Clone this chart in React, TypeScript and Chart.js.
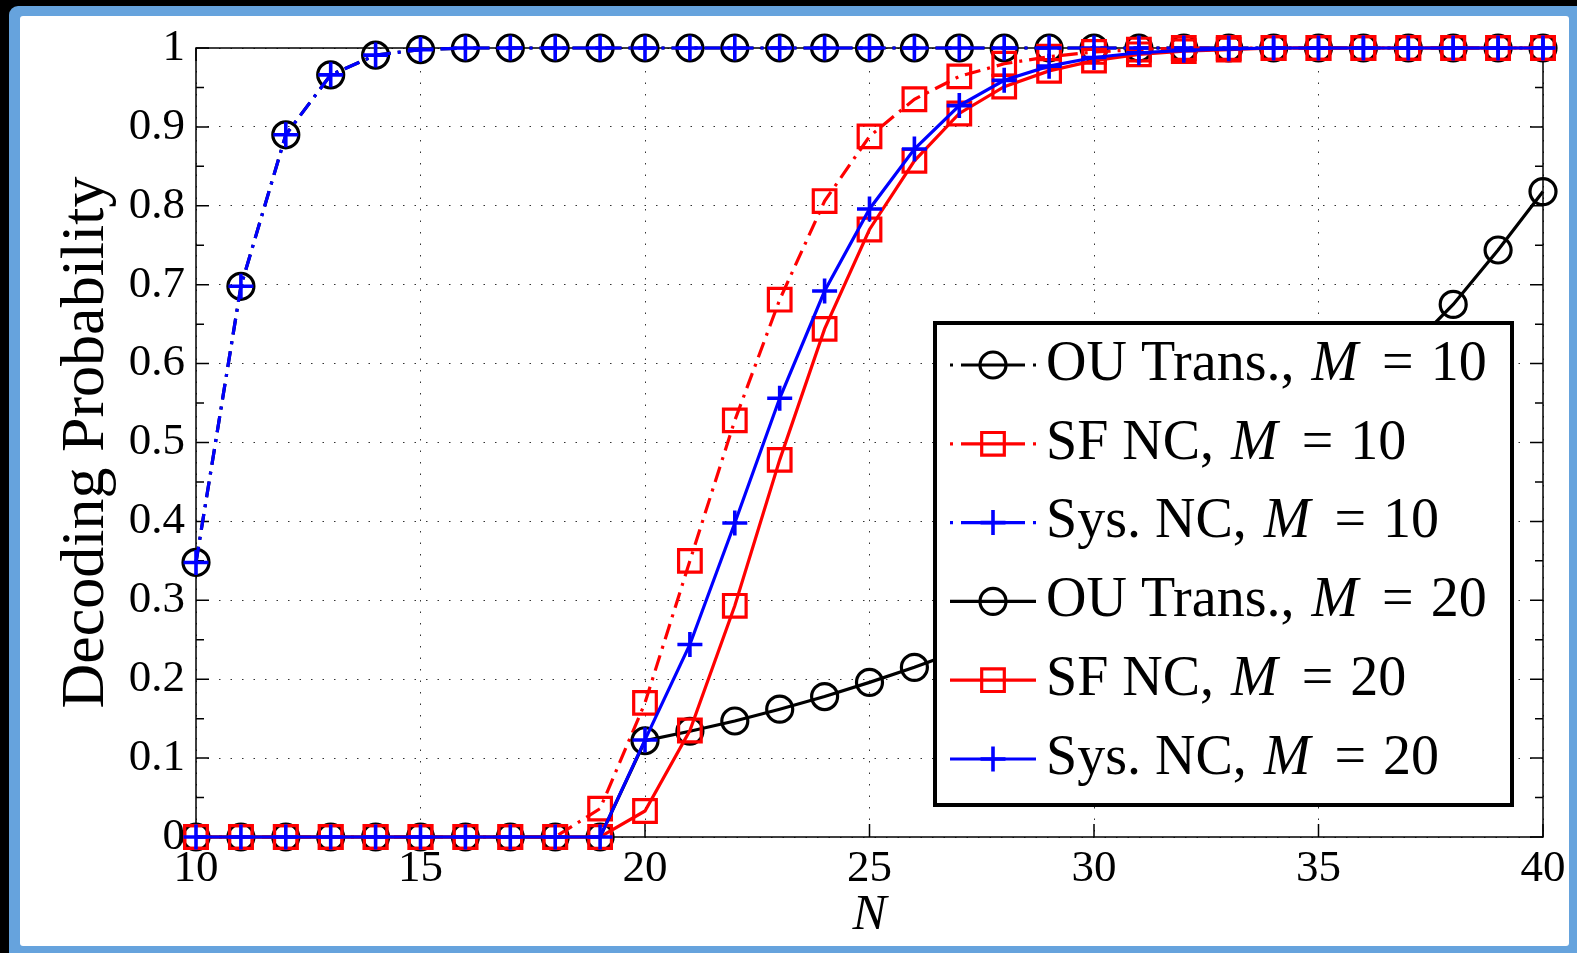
import React, { useEffect, useRef } from "react";
import { Chart, registerables } from "chart.js";

Chart.register(...registerables);

// ---------------- data ----------------
const N_VALUES = [10, 11, 12, 13, 14, 15, 16, 17, 18, 19, 20, 21, 22, 23, 24, 25, 26, 27, 28, 29, 30, 31, 32, 33, 34, 35, 36, 37, 38, 39, 40];

const OU_M10 = [0.348, 0.698, 0.89, 0.966, 0.991, 0.998, 1, 1, 1, 1, 1, 1, 1, 1, 1, 1, 1, 1, 1, 1, 1, 1, 1, 1, 1, 1, 1, 1, 1, 1, 1];
const SF_M10 = [0, 0, 0, 0, 0, 0, 0, 0, 0, 0.036, 0.17, 0.35, 0.528, 0.681, 0.806, 0.888, 0.935, 0.964, 0.98, 0.989, 0.995, 0.998, 1, 1, 1, 1, 1, 1, 1, 1, 1];
const SYS_M10 = [0.348, 0.698, 0.89, 0.966, 0.991, 0.998, 1, 1, 1, 1, 1, 1, 1, 1, 1, 1, 1, 1, 1, 1, 1, 1, 1, 1, 1, 1, 1, 1, 1, 1, 1];
const OU_M20 = [0, 0, 0, 0, 0, 0, 0, 0, 0, 0, 0.122, 0.134, 0.147, 0.162, 0.178, 0.196, 0.215, 0.236, 0.258, 0.283, 0.311, 0.342, 0.377, 0.415, 0.457, 0.505, 0.558, 0.617, 0.675, 0.744, 0.818];
const SF_M20 = [0, 0, 0, 0, 0, 0, 0, 0, 0, 0, 0.033, 0.135, 0.293, 0.478, 0.644, 0.77, 0.857, 0.917, 0.951, 0.971, 0.984, 0.992, 0.996, 0.998, 1, 1, 1, 1, 1, 1, 1];
const SYS_M20 = [0, 0, 0, 0, 0, 0, 0, 0, 0, 0, 0.123, 0.244, 0.398, 0.556, 0.692, 0.796, 0.872, 0.927, 0.959, 0.977, 0.988, 0.994, 0.997, 0.999, 1, 1, 1, 1, 1, 1, 1];

const SERIES_NAMES = ["OU Trans., ", "SF NC, ", "Sys. NC, ", "OU Trans., ", "SF NC, ", "Sys. NC, "];
const SERIES_M_VALUES = ["10", "10", "10", "20", "20", "20"];

const X_MIN = 10;
const X_MAX = 40;
const X_STEP = 5;
const Y_MIN = 0;
const Y_MAX = 1;
const Y_STEP = 0.1;

const Y_TITLE = "Decoding Probability";
const X_TITLE = "N";

// ---------------- styles ----------------
const FONT = "'Liberation Serif'";
const DASHDOT = [16, 7, 3, 7];
const BLACK = "#000000";
const RED = "#ff0000";
const BLUE = "#0000ff";
const LINE_W = 3.2;

const toPts = (vals: number[]) => vals.map((v, i) => ({ x: N_VALUES[i], y: v }));

function drawMarker(ctx: CanvasRenderingContext2D, style: string, x: number, y: number, r: number, color: string, lw: number) {
  ctx.save();
  ctx.setLineDash([]);
  ctx.strokeStyle = color;
  ctx.lineWidth = lw;
  ctx.beginPath();
  if (style === "circle") {
    ctx.arc(x, y, r, 0, Math.PI * 2);
  } else if (style === "rect") {
    const s = r * Math.SQRT1_2;
    ctx.rect(x - s, y - s, 2 * s, 2 * s);
  } else {
    ctx.moveTo(x - r, y);
    ctx.lineTo(x + r, y);
    ctx.moveTo(x, y - r);
    ctx.lineTo(x, y + r);
  }
  ctx.stroke();
  ctx.restore();
}

const boxPlugin = {
  id: "matlabBox",
  beforeDatasetsDraw(chart: any) {
    const { ctx, chartArea, scales } = chart;
    const { left, top, right, bottom } = chartArea;
    const xs = scales.x;
    const ys = scales.y;
    ctx.save();
    ctx.strokeStyle = "#000";
    ctx.lineWidth = 1.5;
    ctx.setLineDash([]);
    ctx.strokeRect(left, top, right - left, bottom - top);
    ctx.beginPath();
    const yt = ys.ticks.map((t: any) => t.value);
    for (let i = 0; i < yt.length; i++) {
      const py = ys.getPixelForValue(yt[i]);
      ctx.moveTo(left, py);
      ctx.lineTo(left + 13, py);
      ctx.moveTo(right, py);
      ctx.lineTo(right - 13, py);
      if (i < yt.length - 1) {
        const pm = ys.getPixelForValue((yt[i] + yt[i + 1]) / 2);
        ctx.moveTo(left, pm);
        ctx.lineTo(left + 8, pm);
        ctx.moveTo(right, pm);
        ctx.lineTo(right - 8, pm);
      }
    }
    xs.ticks.forEach((t: any) => {
      const px = xs.getPixelForValue(t.value);
      ctx.moveTo(px, bottom);
      ctx.lineTo(px, bottom - 13);
      ctx.moveTo(px, top);
      ctx.lineTo(px, top + 13);
    });
    ctx.stroke();
    ctx.restore();
  },
};

const legendPlugin = {
  id: "matlabLegend",
  afterDatasetsDraw(chart: any) {
    const { ctx, chartArea } = chart;
    const bx = chartArea.right - 608;
    const by = chartArea.top + 275;
    const bw = 577;
    const bh = 482;
    ctx.save();
    ctx.fillStyle = "#fff";
    ctx.fillRect(bx, by, bw, bh);
    ctx.lineWidth = 4;
    ctx.strokeStyle = "#000";
    ctx.setLineDash([]);
    ctx.strokeRect(bx, by, bw, bh);

    chart.data.datasets.forEach((ds: any, i: number) => {
      const cy = by + 42 + i * 78.8;
      const x0 = bx + 15;
      const x1 = bx + 101;
      const mx = (x0 + x1) / 2;
      ctx.save();
      ctx.strokeStyle = ds.borderColor;
      ctx.lineWidth = ds.borderWidth;
      ctx.setLineDash(ds.borderDash && ds.borderDash.length ? [3, 8, 64, 8, 3] : []);
      ctx.beginPath();
      ctx.moveTo(x0, cy);
      ctx.lineTo(x1, cy);
      ctx.stroke();
      ctx.restore();
      drawMarker(ctx, ds.pointStyle, mx, cy, ds.pointRadius, ds.borderColor, ds.pointBorderWidth);

      let tx = bx + 111;
      ctx.fillStyle = "#000";
      ctx.textBaseline = "middle";
      ctx.textAlign = "left";
      const reg = "56px " + FONT;
      const ita = "italic 56px " + FONT;
      ctx.font = reg;
      ctx.fillText(SERIES_NAMES[i], tx, cy);
      tx += ctx.measureText(SERIES_NAMES[i]).width + 3;
      ctx.font = ita;
      ctx.fillText("M", tx, cy);
      tx += ctx.measureText("M").width + 24;
      ctx.font = reg;
      ctx.fillText("=", tx, cy);
      tx += ctx.measureText("=").width + 17;
      ctx.fillText(SERIES_M_VALUES[i], tx, cy);
    });
    ctx.restore();
  },
};

function makeDataset(label: string, vals: number[], color: string, dashed: boolean, style: string, radius: number, order: number) {
  return {
    label,
    data: toPts(vals),
    borderColor: color,
    backgroundColor: color,
    borderWidth: LINE_W,
    borderDash: dashed ? DASHDOT : [],
    pointStyle: style,
    pointRadius: radius,
    pointHoverRadius: radius,
    pointBorderWidth: style === "cross" ? 3.6 : 3.2,
    pointBorderColor: color,
    pointBackgroundColor: "rgba(0,0,0,0)",
    fill: false,
    tension: 0,
    clip: false,
    order,
  };
}

export default function App() {
  const canvasRef = useRef<HTMLCanvasElement | null>(null);

  useEffect(() => {
    if (!canvasRef.current) return;
    let alive = true;
    const chart = new Chart(canvasRef.current, {
      type: "line",
      data: {
        datasets: [
          makeDataset("OU Trans., M = 10", OU_M10, BLACK, true, "circle", 13, 5),
          makeDataset("SF NC, M = 10", SF_M10, RED, true, "rect", 16, 4),
          makeDataset("Sys. NC, M = 10", SYS_M10, BLUE, true, "cross", 12.5, 3),
          makeDataset("OU Trans., M = 20", OU_M20, BLACK, false, "circle", 13, 2),
          makeDataset("SF NC, M = 20", SF_M20, RED, false, "rect", 16, 1),
          makeDataset("Sys. NC, M = 20", SYS_M20, BLUE, false, "cross", 12.5, 0),
        ] as any,
      },
      options: {
        animation: false,
        responsive: false,
        events: [],
        layout: { padding: { left: 50, top: 48, right: 34, bottom: 0 } },
        plugins: {
          legend: { display: false },
          tooltip: { enabled: false },
          title: { display: false },
        },
        scales: {
          x: {
            type: "linear",
            min: X_MIN,
            max: X_MAX,
            afterFit: (s: any) => {
              s.height = 116;
            },
            ticks: {
              stepSize: X_STEP,
              color: "#000",
              padding: 10,
              font: { family: FONT, size: 45, lineHeight: 1 },
              maxRotation: 0,
            },
            grid: { color: "#333", lineWidth: 1, drawTicks: false },
            border: { display: false, dash: [1.5, 10] },
            title: {
              display: true,
              text: X_TITLE,
              color: "#000",
              font: { family: FONT, size: 51, style: "italic", lineHeight: 1 },
              padding: { top: 0, bottom: 12 },
            },
          },
          y: {
            type: "linear",
            min: Y_MIN,
            max: Y_MAX,
            afterFit: (s: any) => {
              s.width = 146;
            },
            ticks: {
              stepSize: Y_STEP,
              color: "#000",
              padding: 11,
              font: { family: FONT, size: 45, lineHeight: 1 },
              callback: (v: any) => String(Math.round(Number(v) * 10) / 10),
            },
            grid: { color: "#333", lineWidth: 1, drawTicks: false },
            border: { display: false, dash: [1.5, 10] },
            title: {
              display: true,
              text: Y_TITLE,
              color: "#000",
              font: { family: FONT, size: 62, lineHeight: 1.2 },
              padding: { top: 0, bottom: 0 },
            },
          },
        },
      },
      plugins: [boxPlugin, legendPlugin],
    });
    const fs: any = (document as any).fonts;
    if (fs && fs.load) {
      Promise.all([
        fs.load("45px 'Liberation Serif'"),
        fs.load("italic 45px 'Liberation Serif'"),
      ])
        .then(() => {
          if (alive) chart.update();
        })
        .catch(() => {});
    }
    return () => {
      alive = false;
      chart.destroy();
    };
  }, []);

  return (
    <div style={{ position: "fixed", left: 0, top: 0, width: 1577, height: 953, background: "#000", overflow: "hidden" }}>
      <div style={{ position: "absolute", left: 9, top: 6, width: 1600, height: 1000, background: "#66a3dd", borderRadius: 9 }} />
      <div style={{ position: "absolute", left: 20, top: 16, width: 1549, height: 930, background: "#fff", borderRadius: 3 }} />
      <canvas
        ref={canvasRef}
        width={1577}
        height={953}
        style={{ position: "absolute", left: 0, top: 0, width: 1577, height: 953 }}
      />
    </div>
  );
}
